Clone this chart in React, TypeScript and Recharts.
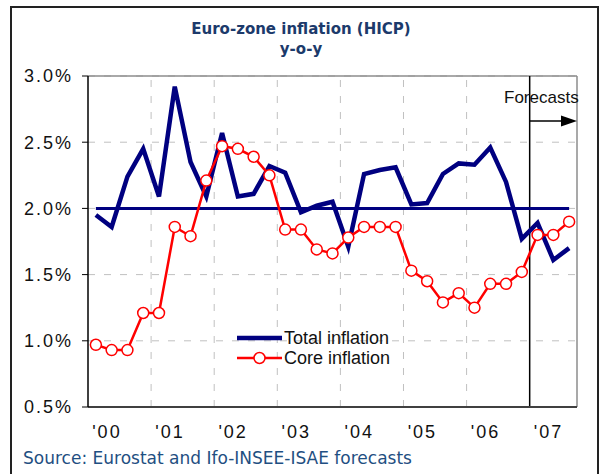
import React from 'react';
import { LineChart, Line, XAxis, YAxis, CartesianGrid, ReferenceLine, Legend } from 'recharts';

// quarterly, 2000Q1 .. 2007Q3 (last three are forecasts)
const quarters = [
  '00Q1', '00Q2', '00Q3', '00Q4', '01Q1', '01Q2', '01Q3', '01Q4',
  '02Q1', '02Q2', '02Q3', '02Q4', '03Q1', '03Q2', '03Q3', '03Q4',
  '04Q1', '04Q2', '04Q3', '04Q4', '05Q1', '05Q2', '05Q3', '05Q4',
  '06Q1', '06Q2', '06Q3', '06Q4', '07Q1', '07Q2', '07Q3',
];
const totalInflation = [
  1.95, 1.86, 2.24, 2.45, 2.09, 2.92, 2.35, 2.09,
  2.57, 2.09, 2.11, 2.32, 2.27, 1.97, 2.02, 2.05,
  1.71, 2.26, 2.29, 2.31, 2.03, 2.04, 2.26, 2.34,
  2.33, 2.46, 2.2, 1.77, 1.89, 1.61, 1.7,
];
const coreInflation = [
  0.97, 0.93, 0.93, 1.21, 1.21, 1.86, 1.79, 2.21,
  2.47, 2.45, 2.39, 2.25, 1.84, 1.84, 1.69, 1.66,
  1.78, 1.86, 1.86, 1.86, 1.53, 1.45, 1.29, 1.36,
  1.25, 1.43, 1.43, 1.52, 1.8, 1.8, 1.9,
];
const ecbTarget = 2.0;
const yearLabels = ["'00", "'01", "'02", "'03", "'04", "'05", "'06", "'07"];
const yTicks = [0.5, 1.0, 1.5, 2.0, 2.5, 3.0];
const forecastStart = 28; // first forecast quarter index (2007Q1)

const data = quarters.map((q, i) => ({
  q,
  x: i + 0.5,
  total: totalInflation[i],
  core: coreInflation[i],
  target: ecbTarget,
}));

// label sits a bit left of each year's middle, as in the original
const yearTickPos = yearLabels.map((_, i) => i * 4 + 1.2);
const yearBounds = [4, 8, 12, 16, 20, 24];

const NAVY = '#000080';
const RED = '#ff0000';
const FONT = '"Liberation Sans", Arial, sans-serif';

const ForecastArrow = (props: any) => {
  const { x1, y1, x2 } = props;
  return (
    <g>
      <line x1={x1} y1={y1} x2={x2 - 14} y2={y1} stroke="#000" strokeWidth={1.5} />
      <polygon points={`${x2},${y1} ${x2 - 16},${y1 - 5.5} ${x2 - 16},${y1 + 5.5}`} fill="#000" />
      <text x={(x1 + x2) / 2 - 12} y={y1 - 18} textAnchor="middle" fontSize={17} fontFamily={FONT} fill="#111">
        Forecasts
      </text>
    </g>
  );
};

const renderLegend = () => (
  <div style={{ fontFamily: FONT, fontSize: 18, color: '#111', lineHeight: '20px' }}>
    <div style={{ display: 'flex', alignItems: 'center' }}>
      <svg width={48} height={20}>
        <line x1={1} y1={10} x2={46} y2={10} stroke={NAVY} strokeWidth={4.5} />
      </svg>
      <span>Total inflation</span>
    </div>
    <div style={{ display: 'flex', alignItems: 'center' }}>
      <svg width={48} height={20}>
        <line x1={1} y1={10} x2={46} y2={10} stroke={RED} strokeWidth={2.5} />
        <circle cx={23.5} cy={10} r={5.5} fill="#fff" stroke={RED} strokeWidth={1.5} />
      </svg>
      <span>Core inflation</span>
    </div>
  </div>
);

const tickStyle = { fontSize: 18, fontFamily: FONT, fill: '#111', letterSpacing: 2 };

export default function App() {
  return (
    <div style={{ position: 'absolute', left: 0, top: 0, width: 600, height: 474, background: '#fff', overflow: 'hidden' }}>
      <div style={{ position: 'absolute', left: 10, top: 6, width: 585, height: 490, border: '2px solid #222' }} />
      <div
        style={{
          position: 'absolute', left: 0, top: 19, width: 602, textAlign: 'center',
          fontFamily: '"DejaVu Sans", Verdana, sans-serif', fontWeight: 'bold', fontSize: 15,
          color: '#1c3a6b', lineHeight: '20px',
        }}
      >
        <div>Euro-zone inflation (HICP)</div>
        <div>y-o-y</div>
      </div>
      <LineChart
        width={600}
        height={474}
        data={data}
        margin={{ top: 76, right: 23, left: 0, bottom: 37 }}
        style={{ position: 'absolute', left: 0, top: 0 }}
      >
        <CartesianGrid vertical={false} stroke="#c0c0c0" strokeDasharray="7 9" />
        {yearBounds.map((b) => (
          <ReferenceLine key={b} x={b} stroke="#c0c0c0" strokeDasharray="7 9" />
        ))}
        <ReferenceLine y={3} stroke="#8c8c8c" strokeWidth={1.5} />
        <ReferenceLine x={31} stroke="#8c8c8c" strokeWidth={1.5} />
        <XAxis
          dataKey="x"
          type="number"
          domain={[0, 31]}
          ticks={yearTickPos}
          tickFormatter={(v: number) => yearLabels[Math.round((v - 1.2) / 4)]}
          tickLine={false}
          axisLine={{ stroke: '#404040', strokeWidth: 2 }}
          tick={tickStyle}
          tickMargin={12}
          height={30}
          allowDataOverflow
        />
        <YAxis
          type="number"
          domain={[0.5, 3]}
          ticks={yTicks}
          tickFormatter={(v: number) => v.toFixed(1) + '%'}
          axisLine={{ stroke: '#000', strokeWidth: 1.5 }}
          tickLine={{ stroke: '#000' }}
          tickSize={6}
          tickMargin={9}
          tick={tickStyle}
          width={88}
        />
        <ReferenceLine x={forecastStart} stroke="#000" strokeWidth={1.5} />
        <ReferenceLine
          segment={[{ x: forecastStart, y: 2.66 }, { x: 31, y: 2.66 }]}
          shape={ForecastArrow}
        />
        <Line
          dataKey="target"
          stroke={NAVY}
          strokeWidth={3}
          dot={false}
          isAnimationActive={false}
          legendType="none"
        />
        <Line
          dataKey="total"
          name="Total inflation"
          stroke={NAVY}
          strokeWidth={4.5}
          dot={false}
          isAnimationActive={false}
        />
        <Line
          dataKey="core"
          name="Core inflation"
          stroke={RED}
          strokeWidth={2.5}
          dot={{ r: 5.5, fill: '#fff', stroke: RED, strokeWidth: 1.5 }}
          isAnimationActive={false}
        />
        <Legend
          content={renderLegend}
          layout="vertical"
          align="center"
          verticalAlign="middle"
          wrapperStyle={{ position: 'absolute', left: 236, top: 328, width: 200, bottom: 'auto' }}
        />
      </LineChart>
      <div
        style={{
          position: 'absolute', left: 23, top: 448, fontFamily: '"DejaVu Sans", Verdana, sans-serif',
          fontSize: 17, color: '#1f4f82', whiteSpace: 'nowrap',
        }}
      >
        Source: Eurostat and Ifo-INSEE-ISAE forecasts
      </div>
    </div>
  );
}
